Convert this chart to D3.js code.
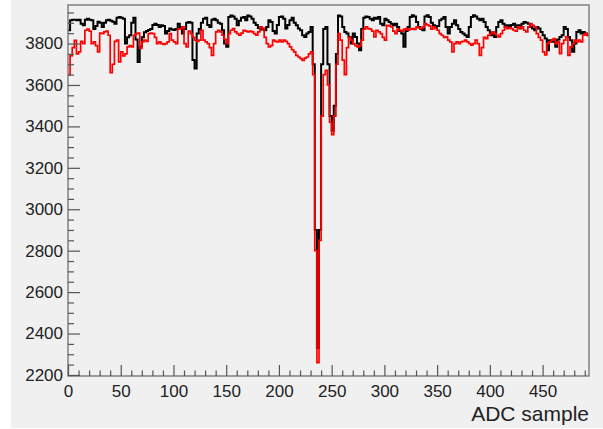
<!DOCTYPE html>
<html>
<head>
<meta charset="utf-8">
<script src="https://cdn.jsdelivr.net/npm/d3@7/dist/d3.min.js"></script>
<style>
  body { margin: 0; background: #fff; }
  svg { display: block; }
  text { font-family: "Liberation Sans", Arial, sans-serif; fill: #222; }
</style>
</head>
<body>
<div id="chart"></div>
<script>
var width = 603,
    height = 429;

// ADC samples, one value per 2 samples (bin start = index*2)
var binWidth = 2;
var xMax = 494;
var yMin = 2195, yMax = 3986;

var xTicks = [0, 50, 100, 150, 200, 250, 300, 350, 400, 450];
var yTicks = [2200, 2400, 2600, 2800, 3000, 3200, 3400, 3600, 3800];
var xTitle = "ADC sample";

var blackValues = [
  3864,3912,3915,3915,3912,3915,3895,3888,3915,3920,
  3915,3912,3870,3885,3905,3900,3880,3900,3912,3915,
  3910,3905,3896,3925,3928,3925,3920,3800,3830,3840,
  3900,3925,3820,3711,3785,3830,3855,3860,3865,3870,
  3890,3895,3890,3880,3888,3885,3848,3860,3872,3868,
  3865,3870,3896,3880,3848,3870,3900,3904,3900,3720,
  3679,3848,3870,3900,3920,3925,3890,3880,3915,3920,
  3912,3900,3896,3864,3800,3784,3928,3935,3930,3920,
  3888,3910,3925,3928,3912,3935,3930,3920,3900,3890,
  3875,3868,3872,3864,3880,3912,3904,3860,3848,3890,
  3928,3930,3920,3872,3890,3912,3925,3900,3888,3872,
  3864,3840,3832,3848,3856,3880,3700,2900,2330,2900,
  3700,3870,3880,3700,3450,3380,3500,3750,3935,3930,
  3880,3856,3848,3832,3800,3848,3832,3800,3768,3870,
  3925,3930,3928,3920,3912,3925,3920,3928,3896,3888,
  3920,3912,3904,3896,3888,3896,3880,3860,3848,3784,
  3860,3880,3928,3937,3930,3904,3880,3870,3864,3930,
  3937,3928,3900,3888,3880,3885,3912,3920,3928,3880,
  3848,3880,3896,3912,3888,3870,3856,3848,3840,3832,
  3880,3928,3937,3930,3920,3912,3920,3904,3880,3864,
  3840,3850,3832,3880,3904,3912,3896,3880,3888,3885,
  3890,3896,3880,3888,3872,3896,3904,3900,3896,3880,
  3872,3864,3880,3872,3856,3840,3824,3768,3816,3808,
  3816,3784,3820,3832,3840,3880,3870,3832,3816,3760,
  3800,3856,3864,3848,3856,3848,3840
];

var redValues = [
  3650,3740,3780,3815,3750,3760,3810,3800,3864,3870,
  3860,3800,3808,3790,3760,3850,3848,3856,3860,3840,
  3660,3700,3810,3816,3711,3760,3740,3750,3784,3790,
  3784,3840,3848,3850,3776,3808,3816,3810,3848,3850,
  3848,3830,3800,3808,3800,3796,3800,3808,3848,3816,
  3808,3800,3870,3872,3880,3800,3784,3860,3848,3830,
  3816,3810,3816,3864,3816,3808,3800,3780,3743,3800,
  3856,3864,3856,3840,3820,3800,3848,3864,3872,3856,
  3848,3840,3850,3864,3860,3856,3860,3856,3848,3840,
  3856,3880,3872,3830,3800,3784,3790,3816,3810,3808,
  3816,3808,3816,3810,3800,3784,3770,3760,3743,3735,
  3727,3719,3730,3735,3750,3760,3650,2800,2260,2850,
  3450,3650,3670,3600,3420,3360,3450,3700,3848,3816,
  3720,3650,3780,3830,3816,3800,3790,3784,3790,3816,
  3870,3880,3872,3870,3860,3832,3864,3856,3848,3830,
  3816,3888,3885,3880,3860,3848,3870,3864,3860,3868,
  3872,3864,3870,3872,3868,3880,3875,3872,3880,3896,
  3890,3885,3870,3880,3872,3864,3848,3840,3830,3832,
  3816,3808,3759,3800,3808,3800,3808,3810,3816,3808,
  3800,3792,3800,3816,3800,3743,3780,3830,3824,3840,
  3848,3856,3848,3840,3832,3848,3864,3880,3872,3876,
  3872,3864,3860,3880,3876,3880,3864,3856,3880,3896,
  3888,3880,3848,3830,3816,3760,3745,3800,3808,3816,
  3824,3800,3808,3751,3800,3816,3832,3743,3784,3800,
  3816,3808,3816,3808,3840,3848,3840
];

var margin = {left: 68, right: 14, top: 5, bottom: 53};

var svg = d3.select('#chart').append('svg')
  .attr('width', width)
  .attr('height', height);

// pad background
svg.append('rect')
  .attr('x', 11).attr('y', 0)
  .attr('width', width - 11).attr('height', 428)
  .attr('fill', '#f0f0f0');

let scaleX = d3.scaleLinear().domain([0, xMax]).range([margin.left, width - margin.right]);
let scaleY = d3.scaleLinear().domain([yMin, yMax]).range([height - margin.bottom, margin.top]);

// histogram as steps
function toSteps(vals) {
  let pts = vals.map((v, i) => ({x: i * binWidth, y: v}));
  pts.push({x: xMax, y: vals[vals.length - 1]});
  return pts;
}

var lineFunc = d3.line()
  .x(d => scaleX(d.x))
  .y(d => scaleY(d.y))
  .curve(d3.curveStepAfter);

var g = svg.append('g');
g.append('path')
  .attr('d', lineFunc(toSteps(blackValues)))
  .attr('fill', 'none')
  .attr('stroke', '#000')
  .attr('stroke-width', 2);
g.append('path')
  .attr('d', lineFunc(toSteps(redValues)))
  .attr('fill', 'none')
  .attr('stroke', '#ff0000')
  .attr('stroke-width', 1.7);

// frame
svg.append('rect')
  .attr('x', scaleX(0)).attr('y', scaleY(yMax))
  .attr('width', scaleX(xMax) - scaleX(0))
  .attr('height', scaleY(yMin) - scaleY(yMax))
  .attr('fill', 'none')
  .attr('stroke', '#808080')
  .attr('stroke-width', 1.5);

// minor ticks
var xMinor = d3.range(0, xMax, 10).filter(d => d % 50 != 0);
var yMinor = d3.range(2200, yMax, 50).filter(d => d % 200 != 0);
var fmt = d3.format("d");

var axisX = svg.append('g').attr('transform', 'translate(0,' + scaleY(yMin) + ')');
axisX.call(d3.axisBottom(scaleX).tickValues(xTicks).tickFormat(fmt)
  .tickSizeInner(-11).tickSizeOuter(0).tickPadding(9));
axisX.append('g').call(d3.axisBottom(scaleX).tickValues(xMinor)
  .tickSizeInner(-5.5).tickSizeOuter(0).tickFormat(''));

var axisY = svg.append('g').attr('transform', 'translate(' + scaleX(0) + ',0)');
axisY.call(d3.axisLeft(scaleY).tickValues(yTicks).tickFormat(fmt)
  .tickSizeInner(-12).tickSizeOuter(0).tickPadding(5));
axisY.append('g').call(d3.axisLeft(scaleY).tickValues(yMinor)
  .tickSizeInner(-6).tickSizeOuter(0).tickFormat(''));

svg.selectAll('.domain').remove();
svg.selectAll('.tick line').attr('stroke', '#555').attr('stroke-width', 1.2);
svg.selectAll('.tick text')
  .attr('font-family', '"Liberation Sans", Arial, sans-serif')
  .attr('font-size', 17)
  .attr('fill', '#222');

// axis title
svg.append('text')
  .attr('x', scaleX(xMax))
  .attr('y', 421)
  .attr('text-anchor', 'end')
  .attr('font-size', 21)
  .text(xTitle);
</script>
</body>
</html>
